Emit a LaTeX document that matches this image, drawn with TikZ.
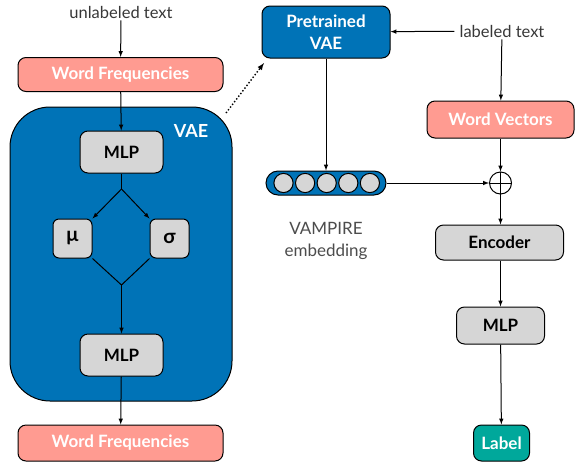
\documentclass[tikz,border=0pt]{standalone}
\usepackage{fontspec}
\setmainfont{Lato}
\usepackage{tikz}
\usetikzlibrary{positioning}
\definecolor{freqclr}{RGB}{255,155,145}
\definecolor{vaeclr}{RGB}{0,115,183}
\definecolor{layerclr}{RGB}{214,214,214}
\definecolor{labelclr}{RGB}{0,168,155}
\definecolor{txtclr}{RGB}{55,55,55}
\tikzset{ %
  ,>=latex
  ,every node/.style={font=\fontsize{16.5}{19}\selectfont}
  ,wordbox/.style={draw, line width=1pt, rounded corners=8pt, inner sep=0, minimum width=205pt, minimum height=34pt, fill=freqclr, text=white, font=\fontsize{17}{20}\selectfont\bfseries}
  ,layer/.style={draw, line width=1pt, rounded corners=8pt, inner sep=0, fill=layerclr, text=black, font=\fontsize{17}{20}\selectfont\bfseries}
  ,param/.style={layer, rounded corners=6pt, minimum size=39pt, font=\fontsize{20}{22}\selectfont\bfseries}
  ,plain/.style={text=txtclr, inner xsep=5pt, inner ysep=2pt, align=center}
  ,link/.style={->, line width=1pt}
}
\begin{document}
\begin{tikzpicture}[x=1pt, y=-1pt]
  \useasboundingbox (0,0) rectangle (577,461);
  % left column: VAE training
  \node[draw, rounded corners=40pt, fill=vaeclr, minimum width=222pt, minimum height=294pt, line width=1pt] (vae) at (121,254) {};
  \node[text=white, font=\fontsize{18}{20}\selectfont\bfseries] (vaetitle) at (191,131) {VAE};
  \node[plain] (unl) at (121,12) {unlabeled text};
  \node[wordbox] (wfin) at (120.5,74.5) {Word Frequencies};
  \node[layer, minimum width=83pt, minimum height=42pt] (enc1) at (121.5,152) {MLP};
  \node[param] (mu) at (72.5,238.5) {μ};
  \node[param] (sigma) at (169.5,238.5) {σ};
  \node[layer, minimum width=83pt, minimum height=42pt] (dec1) at (121.5,355) {MLP};
  \node[wordbox, minimum height=36pt] (wfout) at (120.5,443) {Word Frequencies};
  \coordinate (split) at (121.5,189);
  \coordinate (join) at (121.5,285);
  \draw[link] (unl) -- (wfin);
  \draw[link] (wfin) -- (enc1);
  \draw[line width=1pt] (enc1) -- (split);
  \draw[link] (split) -- (mu.north east);
  \draw[link] (split) -- (sigma.north west);
  \draw[line width=1pt] (mu.south east) -- (join) -- (sigma.south west);
  \draw[link] (join) -- (dec1);
  \draw[link] (dec1) -- (wfout);

  % middle: pretrained VAE and embedding
  \node[draw, line width=1pt, rounded corners=8pt, fill=vaeclr, text=white, font=\fontsize{17}{22}\selectfont\bfseries, align=center, minimum width=128pt, minimum height=52pt, inner sep=0] (pvae) at (326,32) {Pretrained\\VAE};
  \node[draw, line width=1pt, rounded corners=12pt, fill=vaeclr, minimum width=120pt, minimum height=24pt, inner sep=0] (emb) at (326,183) {};
  \foreach \i in {0,...,4}
    \draw[fill=layerclr, line width=1pt] (283.5+21.6*\i,183) circle (9.6pt);
  \node[plain, text=black!70, font=\fontsize{17}{22}\selectfont] (embtxt) at (326,241) {VAMPIRE\\embedding};
  \coordinate (dotfrom) at (226,113);
  \coordinate (dotto) at (264,63);
  \draw[->, dotted, line width=1.4pt] (dotfrom) -- (dotto);
  \draw[link] (pvae) -- (emb);

  % right column: classifier
  \node[plain] (lab) at (502,31) {labeled text};
  \node[wordbox, minimum width=147pt, minimum height=37pt] (wv) at (500.5,119.5) {Word Vectors};
  \node[draw, circle, minimum size=22pt, inner sep=0, line width=1pt] (plus) at (500.5,183) {};
  \draw[line width=1pt] (plus.north) -- (plus.south) (plus.west) -- (plus.east);
  \node[layer, minimum width=128pt, minimum height=35pt] (enc2) at (499.5,242.5) {Encoder};
  \node[layer, minimum width=88pt, minimum height=37pt] (mlp2) at (500.5,325.5) {MLP};
  \node[layer, fill=labelclr, text=white, minimum width=56pt, minimum height=36pt] (label) at (501.5,443) {Label};
  \draw[link] (lab) -- (pvae);
  \draw[link] (lab) -- (wv);
  \draw[link] (wv) -- (plus);
  \draw[link] (emb) -- (plus);
  \draw[link] (plus) -- (plus |- enc2.north);
  \draw[link] (enc2.south -| mlp2) -- (mlp2);
  \draw[link] (mlp2) -- (label);
\end{tikzpicture}
\end{document}
